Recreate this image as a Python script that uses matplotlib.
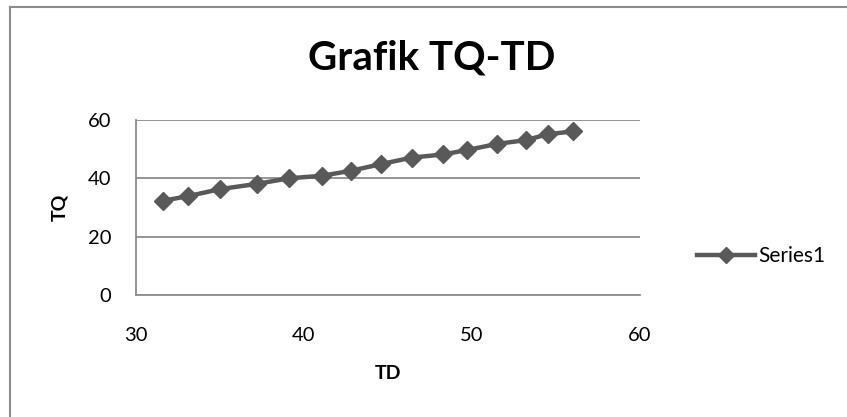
import matplotlib.pyplot as plt
from matplotlib.lines import Line2D

# data
td = [31.6, 33.1, 35.0, 37.2, 39.1, 41.1, 42.8, 44.6, 46.4, 48.3, 49.7, 51.5, 53.2, 54.5, 56.0]
tq = [32.3, 33.9, 36.3, 38.1, 40.0, 40.9, 42.6, 44.9, 47.1, 48.2, 49.7, 51.8, 53.1, 55.1, 56.1]
x_ticks = [30, 40, 50, 60]
y_ticks = [0, 20, 40, 60]

plt.rcParams['font.family'] = ['Lato', 'DejaVu Sans']

fig = plt.figure(figsize=(8.47, 4.17), dpi=100)
ax = fig.add_axes([136/847, 1-295/417, 504/847, 175/417])

grid_col = '#8c8c8c'
line_col = '#595959'

ax.plot(td, tq, color=line_col, lw=3.2, marker='D', ms=9, mec=line_col, mfc=line_col,
        label='Series1', zorder=3)

ax.set_xlim(30, 60)
ax.set_ylim(0, 60)
ax.set_xticks(x_ticks)
ax.set_yticks(y_ticks)
ax.yaxis.grid(True, color=grid_col, lw=1.3)
ax.set_axisbelow(True)
ax.tick_params(length=0, labelsize=14.5)
ax.tick_params(axis='y', pad=18)
ax.tick_params(axis='x', pad=23)
for s in ['top', 'right']:
    ax.spines[s].set_visible(False)
for s in ['left', 'bottom']:
    ax.spines[s].set_color(grid_col)
    ax.spines[s].set_linewidth(1.3)

ax.set_xlabel('TD', fontsize=14, fontweight='bold', labelpad=15)
ax.set_ylabel('TQ', fontsize=14, fontweight='bold', labelpad=14)

fig.text(0.51, 0.862, 'Grafik TQ-TD', ha='center', va='center', fontsize=29, fontweight='bold')

ax.legend(loc='center left', bbox_to_anchor=(1.075, 0.22), frameon=False, fontsize=15,
          handlelength=2.8, handletextpad=0.15, markerscale=0.85)

# chart area border (only left and top edges visible)
fig.add_artist(Line2D([10/847, 10/847], [0, 1 - 7/417], transform=fig.transFigure,
                      color='#8c8c8c', lw=1.5))
fig.add_artist(Line2D([10/847, 1], [1 - 7/417, 1 - 7/417], transform=fig.transFigure,
                      color='#8c8c8c', lw=1.5))

fig.savefig('out.png', dpi=100)
